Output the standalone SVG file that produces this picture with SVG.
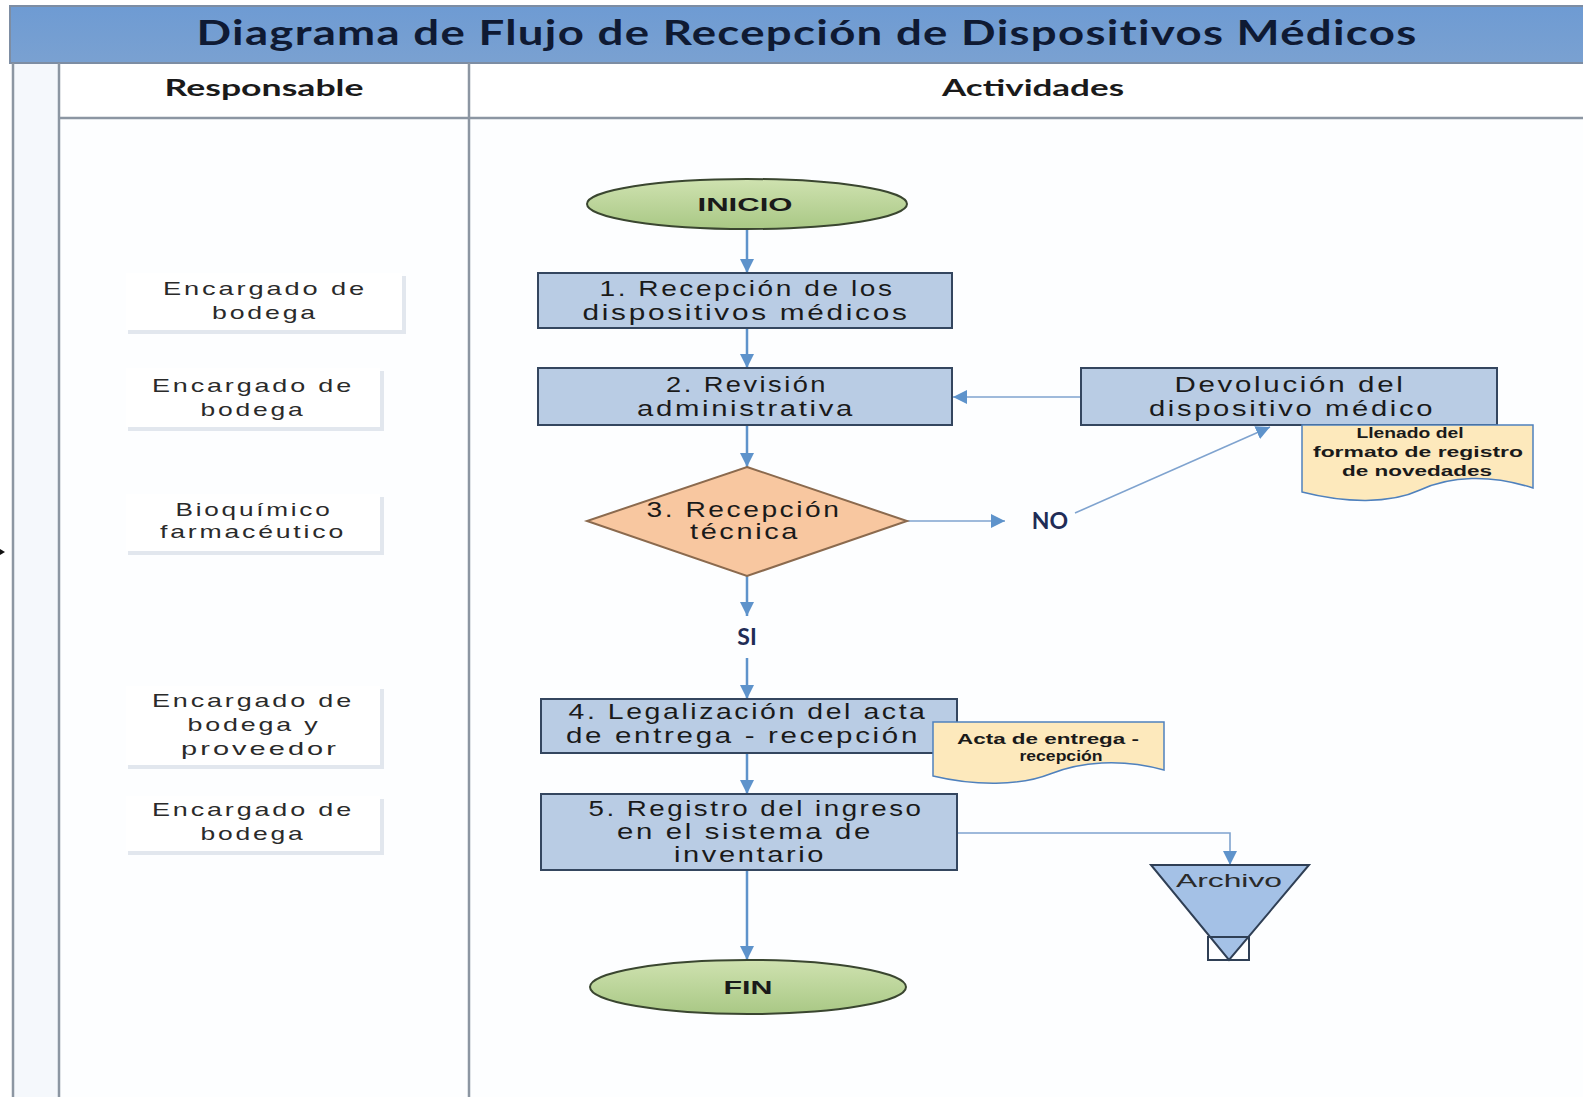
<svg xmlns="http://www.w3.org/2000/svg" width="1583" height="1097" viewBox="0 0 1583 1097">
<style>
.col{stroke:#8c96a2;stroke-width:2.5;fill:none}
.hdr{font-family:"Lato","Liberation Sans",sans-serif;font-weight:bold;font-size:23px;fill:#1a1a1a;text-anchor:middle}
.lbl{font-family:"Liberation Sans",Arial,sans-serif;font-size:19px;fill:#2a2a2a;text-anchor:middle;letter-spacing:2px}
.lblbox{fill:#ffffff}
.lblsh{fill:#e2e7ee}
.box{fill:#b9cce4;stroke:#34465f;stroke-width:2}
.bt{font-family:"Liberation Sans",Arial,sans-serif;font-size:22px;fill:#1a1a1a;text-anchor:middle;letter-spacing:2px}
.term{fill:url(#gGreen);stroke:#3a4630;stroke-width:2}
.tt{font-family:"Liberation Sans",Arial,sans-serif;font-size:19px;font-weight:bold;fill:#1a1a1a;text-anchor:middle}
.dec{fill:#f8c7a0;stroke:#8b6a4e;stroke-width:2}
.doc{fill:#fde9bc;stroke:#4f81bd;stroke-width:1.5}
.dt{font-family:"Liberation Sans Narrow","Liberation Sans",Arial,sans-serif;font-size:15px;font-weight:bold;fill:#1a1a1a;text-anchor:middle}
.yn{font-family:"Lato","Liberation Sans",sans-serif;font-weight:bold;font-size:23px;fill:#1f2c56;text-anchor:middle}
.cn{stroke:#5e93cb;stroke-width:2.5;fill:none}
.cnt{stroke:#7fa3cf;stroke-width:1.6;fill:none}
</style>
<defs>
<marker id="ah" viewBox="0 0 10 10" refX="10" refY="5" markerUnits="userSpaceOnUse" markerWidth="14" markerHeight="14" orient="auto">
<path d="M0,0 L10,5 L0,10 z" fill="#5e93cb"/>
</marker>
<linearGradient id="gGreen" x1="0" y1="0" x2="0" y2="1">
<stop offset="0" stop-color="#cfe2b0"/>
<stop offset="1" stop-color="#a9c885"/>
</linearGradient>
<linearGradient id="gBar" x1="0" y1="0" x2="0" y2="1">
<stop offset="0" stop-color="#6e9bd3"/>
<stop offset="1" stop-color="#7aa1d1"/>
</linearGradient>
</defs>

<g id="background">
<rect x="0" y="0" width="1583" height="1097" fill="#ffffff"/>
<rect x="13" y="63" width="46" height="1034" fill="#f5f8fc"/>
<rect x="59" y="118" width="1524" height="979" fill="#fdfeff"/>
</g>

<g id="title">
<rect x="10" y="6" width="1575" height="57" fill="url(#gBar)" stroke="#7d8da3" stroke-width="2"/>
<text x="807" y="45" font-family="Lato,'Liberation Sans',sans-serif" font-weight="bold" font-size="35" fill="#0f1a33" text-anchor="middle" letter-spacing="1" textLength="1221" lengthAdjust="spacingAndGlyphs">Diagrama de Flujo de Recepción de Dispositivos Médicos</text>
</g>

<g id="lanes">
<line class="col" x1="13" y1="63" x2="13" y2="1097"/>
<line class="col" x1="59" y1="63" x2="59" y2="1097"/>
<line class="col" x1="469" y1="63" x2="469" y2="1097"/>
<line class="col" x1="59" y1="118" x2="1583" y2="118"/>
<text class="hdr" x="264" y="96" textLength="199" lengthAdjust="spacingAndGlyphs">Responsable</text>
<text class="hdr" x="1033" y="96" textLength="182" lengthAdjust="spacingAndGlyphs">Actividades</text>
<polygon points="0,549 5,552 0,555" fill="#111"/>
</g>

<g id="resp1">
<rect class="lblsh" x="128" y="276" width="278" height="58"/>
<rect class="lblbox" x="126" y="273" width="276" height="57"/>
<text class="lbl" x="265" y="295" textLength="204" lengthAdjust="spacingAndGlyphs">Encargado de</text>
<text class="lbl" x="265" y="319" textLength="106" lengthAdjust="spacingAndGlyphs">bodega</text>
</g>
<g id="resp2">
<rect class="lblsh" x="128" y="371" width="256" height="60"/>
<rect class="lblbox" x="126" y="368" width="254" height="59"/>
<text class="lbl" x="253" y="392" textLength="202" lengthAdjust="spacingAndGlyphs">Encargado de</text>
<text class="lbl" x="253" y="416" textLength="105" lengthAdjust="spacingAndGlyphs">bodega</text>
</g>
<g id="resp3">
<rect class="lblsh" x="128" y="497" width="256" height="58"/>
<rect class="lblbox" x="126" y="494" width="254" height="57"/>
<text class="lbl" x="254" y="516" textLength="157" lengthAdjust="spacingAndGlyphs">Bioquímico</text>
<text class="lbl" x="253" y="538" textLength="186" lengthAdjust="spacingAndGlyphs">farmacéutico</text>
</g>
<g id="resp4">
<rect class="lblsh" x="128" y="689" width="256" height="80"/>
<rect class="lblbox" x="126" y="686" width="254" height="79"/>
<text class="lbl" x="253" y="707" textLength="202" lengthAdjust="spacingAndGlyphs">Encargado de</text>
<text class="lbl" x="254" y="731" textLength="133" lengthAdjust="spacingAndGlyphs">bodega y</text>
<text class="lbl" x="260" y="755" textLength="158" lengthAdjust="spacingAndGlyphs">proveedor</text>
</g>
<g id="resp5">
<rect class="lblsh" x="128" y="799" width="256" height="56"/>
<rect class="lblbox" x="126" y="796" width="254" height="55"/>
<text class="lbl" x="253" y="816" textLength="202" lengthAdjust="spacingAndGlyphs">Encargado de</text>
<text class="lbl" x="253" y="840" textLength="105" lengthAdjust="spacingAndGlyphs">bodega</text>
</g>

<g id="connectors">
<line class="cn" x1="747" y1="230" x2="747" y2="273" marker-end="url(#ah)"/>
<line class="cn" x1="747" y1="328" x2="747" y2="368" marker-end="url(#ah)"/>
<line class="cnt" x1="1081" y1="397" x2="953" y2="397" marker-end="url(#ah)"/>
<line class="cn" x1="747" y1="425" x2="747" y2="467" marker-end="url(#ah)"/>
<line class="cnt" x1="907" y1="521" x2="1005" y2="521" marker-end="url(#ah)"/>
<line class="cnt" x1="1075" y1="513" x2="1270" y2="427" marker-end="url(#ah)"/>
<line class="cn" x1="747" y1="576" x2="747" y2="616" marker-end="url(#ah)"/>
<line class="cn" x1="747" y1="658" x2="747" y2="699" marker-end="url(#ah)"/>
<line class="cn" x1="747" y1="753" x2="747" y2="794" marker-end="url(#ah)"/>
<polyline class="cnt" points="957,833 1230,833 1230,865" marker-end="url(#ah)"/>
<line class="cn" x1="747" y1="870" x2="747" y2="960" marker-end="url(#ah)"/>
<text class="yn" x="1050" y="529">NO</text>
<text class="yn" x="747" y="645">SI</text>
</g>

<g id="inicio">
<ellipse class="term" cx="747" cy="204" rx="160" ry="25"/>
<text class="tt" x="745" y="211" textLength="95" lengthAdjust="spacingAndGlyphs">INICIO</text>
</g>

<g id="paso1">
<rect class="box" x="538" y="273" width="414" height="55"/>
<text class="bt" x="747" y="296" textLength="295" lengthAdjust="spacingAndGlyphs">1. Recepción de los</text>
<text class="bt" x="746" y="320" textLength="327" lengthAdjust="spacingAndGlyphs">dispositivos médicos</text>
</g>

<g id="paso2">
<rect class="box" x="538" y="368" width="414" height="57"/>
<text class="bt" x="747" y="392" textLength="162" lengthAdjust="spacingAndGlyphs">2. Revisión</text>
<text class="bt" x="746" y="416" textLength="218" lengthAdjust="spacingAndGlyphs">administrativa</text>
</g>

<g id="devolucion">
<rect class="box" x="1081" y="368" width="416" height="57"/>
<text class="bt" x="1290" y="392" textLength="231" lengthAdjust="spacingAndGlyphs">Devolución del</text>
<text class="bt" x="1292" y="416" textLength="286" lengthAdjust="spacingAndGlyphs">dispositivo médico</text>
</g>

<g id="doc-novedades">
<path class="doc" d="M1302,425 H1533 V488 C1490,474 1450,476 1420,490 C1390,504 1345,503 1302,492 Z"/>
<text class="dt" x="1410" y="438" textLength="107" lengthAdjust="spacingAndGlyphs">Llenado del</text>
<text class="dt" x="1418" y="457" textLength="210" lengthAdjust="spacingAndGlyphs">formato de registro</text>
<text class="dt" x="1417" y="476" textLength="150" lengthAdjust="spacingAndGlyphs">de novedades</text>
</g>

<g id="paso3">
<polygon class="dec" points="747,467 907,521 747,576 587,521"/>
<text class="bt" x="744" y="517" textLength="195" lengthAdjust="spacingAndGlyphs">3. Recepción</text>
<text class="bt" x="745" y="539" textLength="110" lengthAdjust="spacingAndGlyphs">técnica</text>
</g>

<g id="paso4">
<rect class="box" x="541" y="699" width="416" height="54"/>
<text class="bt" x="748" y="719" textLength="359" lengthAdjust="spacingAndGlyphs">4. Legalización del acta</text>
<text class="bt" x="743" y="743" textLength="354" lengthAdjust="spacingAndGlyphs">de entrega - recepción</text>
</g>

<g id="doc-acta">
<path class="doc" d="M933,722 H1164 V770 C1120,758 1080,762 1050,774 C1020,786 975,786 933,776 Z"/>
<text class="dt" x="1048" y="744" textLength="182" lengthAdjust="spacingAndGlyphs">Acta de entrega -</text>
<text class="dt" x="1061" y="761" textLength="83" lengthAdjust="spacingAndGlyphs">recepción</text>
</g>

<g id="paso5">
<rect class="box" x="541" y="794" width="416" height="76"/>
<text class="bt" x="756" y="816" textLength="335" lengthAdjust="spacingAndGlyphs">5. Registro del ingreso</text>
<text class="bt" x="745" y="839" textLength="256" lengthAdjust="spacingAndGlyphs">en el sistema de</text>
<text class="bt" x="750" y="862" textLength="152" lengthAdjust="spacingAndGlyphs">inventario</text>
</g>

<g id="archivo">
<polygon points="1151,865 1309,865 1229,960" fill="#a4c1e6" stroke="#2f3f55" stroke-width="2"/>
<rect x="1208" y="937" width="41" height="23" fill="none" stroke="#2f3f55" stroke-width="2"/>
<text x="1229" y="887" font-family="'Liberation Sans',Arial,sans-serif" font-size="19" fill="#2a2a2a" text-anchor="middle" textLength="106" lengthAdjust="spacingAndGlyphs">Archivo</text>
</g>

<g id="fin">
<ellipse class="term" cx="748" cy="987" rx="158" ry="27"/>
<text class="tt" x="748" y="994" textLength="49" lengthAdjust="spacingAndGlyphs">FIN</text>
</g>
</svg>
